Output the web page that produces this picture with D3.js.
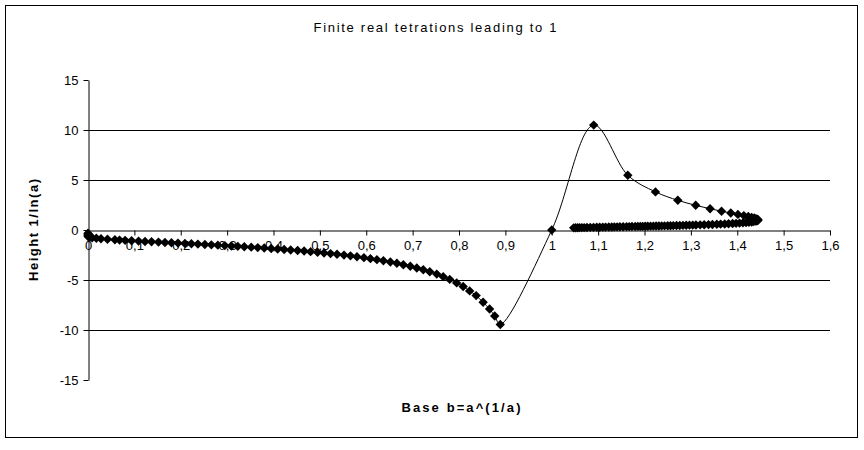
<!DOCTYPE html>
<html>
<head>
<meta charset="utf-8">
<script src="https://cdn.jsdelivr.net/npm/d3@7"></script>
<style>
  body { margin: 0; background: #fff; }
  text { font-family: "Liberation Sans", Arial, sans-serif; }
</style>
</head>
<body>
<script>
// values
const xTicks = [0, 0.1, 0.2, 0.3, 0.4, 0.5, 0.6, 0.7, 0.8, 0.9, 1, 1.1, 1.2, 1.3, 1.4, 1.5, 1.6];
const yTicks = [-15, -10, -5, 0, 5, 10, 15];
const gridValues = [-10, -5, 5, 10];

// branch 0 < a < 1
const negB = [0, 0, 0, 0.0003, 0.001, 0.004, 0.009, 0.018, 0.028, 0.042, 0.058, 0.068,
  0.080, 0.094, 0.109, 0.123, 0.137, 0.152, 0.166, 0.180, 0.194, 0.209, 0.223, 0.237,
  0.252, 0.266, 0.280, 0.295, 0.309, 0.323, 0.337, 0.352, 0.366, 0.380, 0.395, 0.409,
  0.423, 0.437, 0.452, 0.466, 0.480, 0.495, 0.509, 0.523, 0.537, 0.552, 0.566, 0.580,
  0.595, 0.609, 0.623, 0.637, 0.652, 0.666, 0.680, 0.695, 0.709, 0.723, 0.737, 0.752,
  0.766, 0.780, 0.795, 0.809, 0.823, 0.837, 0.852, 0.866, 0.877, 0.889];
const negH = [-0.33, -0.43, -0.53, -0.62, -0.67, -0.72, -0.78, -0.83, -0.88, -0.93, -0.98, -1.01,
  -1.037, -1.073, -1.110, -1.144, -1.177, -1.212, -1.244, -1.277, -1.309, -1.344, -1.377, -1.411,
  -1.448, -1.483, -1.518, -1.557, -1.595, -1.633, -1.673, -1.716, -1.759, -1.802, -1.850, -1.898,
  -1.945, -1.996, -2.052, -2.106, -2.165, -2.229, -2.294, -2.360, -2.430, -2.511, -2.587, -2.674,
  -2.768, -2.865, -2.967, -3.073, -3.203, -3.324, -3.469, -3.624, -3.796, -3.972, -4.177, -4.409,
  -4.665, -4.940, -5.292, -5.646, -6.088, -6.558, -7.229, -7.904, -8.600, -9.450];

// a = 1 and upper branch a > 1
const upB = [1.0, 1.0905, 1.164, 1.2237, 1.2718, 1.3104, 1.3414, 1.3661, 1.386, 1.4014,
  1.4142, 1.4238, 1.431, 1.4364, 1.4402, 1.4427, 1.4441, 1.4447];
const upH = [0, 10.49, 5.48, 3.81, 2.97, 2.47, 2.13, 1.88, 1.70, 1.558,
  1.443, 1.348, 1.268, 1.2, 1.142, 1.091, 1.047, 1.007];

// lower branch, back towards b = 1
const lowB = [1.4444, 1.4436, 1.4422, 1.440, 1.4354, 1.431, 1.4252, 1.419, 1.4123, 1.405,
  1.3975, 1.390, 1.3813, 1.373, 1.3642, 1.356, 1.3465, 1.338, 1.3287, 1.320,
  1.3109, 1.304, 1.297, 1.290, 1.283, 1.276, 1.269, 1.262, 1.256, 1.250,
  1.2432, 1.237, 1.231, 1.225, 1.219, 1.213, 1.207, 1.2015, 1.196, 1.191,
  1.1857, 1.180, 1.173, 1.167, 1.1611, 1.154, 1.147, 1.141, 1.135, 1.1294,
  1.123, 1.116, 1.110, 1.1034, 1.097, 1.090, 1.083, 1.076, 1.070, 1.065,
  1.0601, 1.056, 1.0515, 1.0473];
const lowH = [0.97, 0.94, 0.91, 0.885, 0.833, 0.805, 0.769, 0.741, 0.714, 0.69,
  0.667, 0.646, 0.625, 0.606, 0.588, 0.573, 0.556, 0.541, 0.526, 0.513,
  0.5, 0.491, 0.482, 0.473, 0.464, 0.4545, 0.446, 0.438, 0.431, 0.424,
  0.4167, 0.410, 0.4035, 0.397, 0.391, 0.3846, 0.379, 0.373, 0.367, 0.362,
  0.357, 0.3515, 0.345, 0.339, 0.333, 0.3265, 0.320, 0.314, 0.308, 0.303,
  0.297, 0.291, 0.285, 0.278, 0.271, 0.264, 0.257, 0.25, 0.243, 0.238,
  0.2326, 0.228, 0.222, 0.217];

const width = 864, height = 450;
const margin = { top: 80, right: 34, bottom: 70, left: 88 };

const data = []
  .concat(negB.map((b, i) => ({ b: b, h: negH[i] })))
  .concat(upB.map((b, i) => ({ b: b, h: upH[i] })))
  .concat(lowB.map((b, i) => ({ b: b, h: lowH[i] })));

const x = d3.scaleLinear().domain([0, 1.6]).range([margin.left, width - margin.right]);
const y = d3.scaleLinear().domain([-15, 15]).range([height - margin.bottom, margin.top]);

const svg = d3.select("body").append("svg")
  .attr("width", width)
  .attr("height", height);

svg.append("rect")
  .attr("x", 5.5).attr("y", 5.5)
  .attr("width", 852).attr("height", 432)
  .attr("fill", "#fff").attr("stroke", "#000");

// gridlines
svg.append("g")
  .selectAll("line")
  .data(gridValues)
  .join("line")
  .attr("x1", x(0)).attr("x2", x(1.6))
  .attr("y1", (d) => Math.round(y(d)) + 0.5)
  .attr("y2", (d) => Math.round(y(d)) + 0.5)
  .attr("stroke", "#000");

const fmt = (d) => String(d).replace(".", ",");

const yAxis = svg.append("g")
  .attr("transform", `translate(${x(0) + 0.5},0)`)
  .call(d3.axisLeft(y).tickValues(yTicks).tickSize(5).tickSizeOuter(0).tickPadding(5).tickFormat(fmt));

const xAxis = svg.append("g")
  .attr("transform", `translate(0,${Math.round(y(0)) + 0.5})`)
  .call(d3.axisBottom(x).tickValues(xTicks).tickSize(5).tickSizeOuter(0).tickPadding(5).tickFormat(fmt));

[xAxis, yAxis].forEach((g) => {
  g.attr("font-family", null).attr("font-size", null);
  g.selectAll("text").style("font-size", "13px").attr("fill", "#000");
  g.selectAll("line, path").attr("stroke", "#000");
});

// smoothed line
const line = d3.line()
  .x((d) => x(d.b))
  .y((d) => y(d.h))
  .curve(d3.curveCatmullRom.alpha(0.5));

svg.append("path")
  .datum(data)
  .attr("d", line)
  .attr("fill", "none")
  .attr("stroke", "#000")
  .attr("stroke-width", 1);

// diamond markers
const diamond = d3.symbol().type(d3.symbolSquare).size(44);
svg.append("g")
  .selectAll("path")
  .data(data)
  .join("path")
  .attr("d", diamond)
  .attr("transform", (d) => `translate(${x(d.b)},${y(d.h)}) rotate(45)`)
  .attr("fill", "#000");

// titles
svg.append("text")
  .attr("x", 435).attr("y", 32)
  .attr("text-anchor", "middle")
  .attr("textLength", 243)
  .style("font-size", "13px")
  .text("Finite real tetrations leading to 1");

svg.append("text")
  .attr("x", 461).attr("y", 412)
  .attr("text-anchor", "middle")
  .attr("textLength", 119)
  .style("font-size", "13px")
  .style("font-weight", "bold")
  .text("Base b=a^(1/a)");

svg.append("text")
  .attr("transform", "translate(38,230) rotate(-90)")
  .attr("text-anchor", "middle")
  .attr("textLength", 102)
  .style("font-size", "13px")
  .style("font-weight", "bold")
  .text("Height 1/ln(a)");
</script>
</body>
</html>
